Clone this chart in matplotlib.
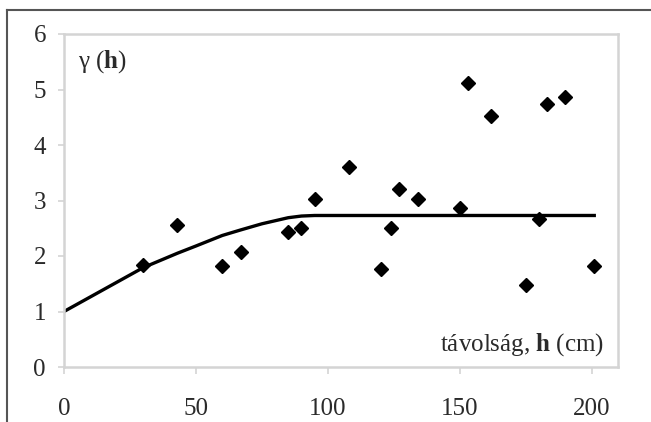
import matplotlib
matplotlib.use("Agg")
import matplotlib.pyplot as plt
from matplotlib.lines import Line2D

# Experimental semivariogram points
lag_h = [30, 43, 60, 67, 85, 90, 95, 108, 120, 124, 127, 134, 150, 153, 162, 175, 180, 183, 190, 201]
gamma = [1.84, 2.55, 1.82, 2.08, 2.44, 2.50, 3.02, 3.61, 1.76, 2.50, 3.21, 3.02, 2.87, 5.12, 4.53, 1.47, 2.66, 4.74, 4.87, 1.82]

# Fitted model curve
model_h = [0, 30, 43, 50, 60, 67, 75, 85, 90, 95, 201]
model_g = [1.00, 1.79, 2.05, 2.18, 2.37, 2.47, 2.58, 2.69, 2.72, 2.73, 2.73]

xticks = [0, 50, 100, 150, 200]
yticks = [0, 1, 2, 3, 4, 5, 6]

plt.rcParams['font.family'] = ['Liberation Serif', 'DejaVu Serif']
plt.rcParams['mathtext.fontset'] = 'custom'
plt.rcParams['mathtext.rm'] = 'Liberation Serif'
plt.rcParams['mathtext.bf'] = 'Liberation Serif:bold'

fig = plt.figure(figsize=(6.51, 4.22), dpi=100)
ax = fig.add_axes([64/651, 1-367/422, (618-64)/651, (367-34)/422])

ax.plot(model_h, model_g, color='black', lw=2.4, solid_joinstyle='round', zorder=2)
ax.plot(lag_h, gamma, linestyle='none', marker='D', ms=7.2, color='black', zorder=3)

ax.set_xlim(0, 210)
ax.set_ylim(0, 6)
ax.set_xticks(xticks)
ax.set_yticks(yticks)
ax.set_xticklabels([str(v) for v in xticks])
ax.set_yticklabels([str(v) for v in yticks])

gray = '#d4d4d4'
for s in ax.spines.values():
    s.set_color(gray)
    s.set_linewidth(1.8)
ax.tick_params(axis='x', colors=gray, length=5, width=1.2, direction='out', pad=17,
               labelsize=18, labelcolor='#2a2a2a')
ax.tick_params(axis='y', colors=gray, length=4, width=1.2, direction='out', pad=9,
               labelsize=18, labelcolor='#2a2a2a')

ax.text(0.025, 0.916, r'γ ($\mathbf{h}$)', transform=ax.transAxes, fontsize=18,
        ha='left', va='center', color='#2a2a2a')
ax.text(0.975, 0.066, r'távolság, $\mathbf{h}$ (cm)', transform=ax.transAxes, fontsize=18,
        ha='right', va='center', color='#2a2a2a')

# outer frame (top and left edges visible)
fig.add_artist(Line2D([7/651, 1.0], [1-10/422, 1-10/422], transform=fig.transFigure,
                      color='#555555', lw=1.5))
fig.add_artist(Line2D([7/651, 7/651], [0.0, 1-10/422], transform=fig.transFigure,
                      color='#555555', lw=1.5))

fig.savefig('out.png', dpi=100)
